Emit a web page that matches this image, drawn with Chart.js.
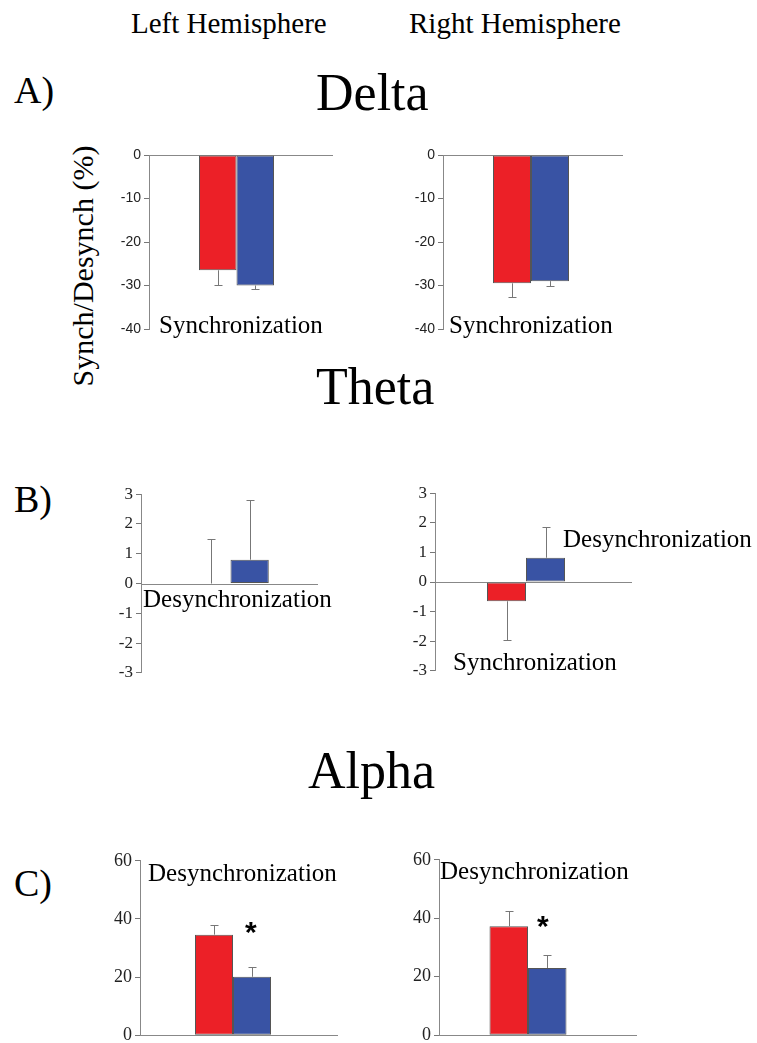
<!DOCTYPE html>
<html>
<head>
<meta charset="utf-8">
<script src="https://cdn.jsdelivr.net/npm/chart.js@4.4.1/dist/chart.umd.min.js"></script>
<style>
  html, body { margin: 0; padding: 0; background: #fff; overflow: hidden; }
  #page { position: relative; width: 757px; height: 1043px; }
  canvas { position: absolute; }
  .t { position: absolute; white-space: nowrap; line-height: 1; color: #000;
       font-family: "Liberation Serif", "Times New Roman", serif; }
</style>
</head>
<body>
<div id="page"></div>
<script>
// data (left / right hemisphere, red / blue groups)
const groups = ['Group 1', 'Group 2'];

const deltaLeft = [-26.5, -30.0];
const deltaLeftErr = [-29.9, -30.8];      // whisker ends
const deltaRight = [-29.5, -29.0];
const deltaRightErr = [-32.7, -30.1];

const thetaLeft = [0.0, 0.8];
const thetaLeftErr = [1.5, 2.8];
const thetaRight = [-0.65, 0.82];
const thetaRightErr = [-1.97, 1.87];

const alphaLeft = [34.6, 20.1];
const alphaLeftErr = [37.9, 23.4];
const alphaRight = [37.3, 23.0];
const alphaRightErr = [42.6, 27.4];

const deltaTicks = [-40, -30, -20, -10, 0];
const thetaTicks = [-3, -2, -1, 0, 1, 2, 3];
const alphaTicks = [0, 20, 40, 60];

const RED = '#ec2027';
const BLUE = '#3953a4';

const page = document.getElementById('page');

function text(str, x, baseline, size, extra) {
  const d = document.createElement('div');
  d.className = 't';
  d.textContent = str;
  d.style.fontSize = size + 'px';
  d.style.left = x + 'px';
  d.style.top = (baseline - 0.8375 * size) + 'px';
  if (extra) Object.assign(d.style, extra);
  page.appendChild(d);
  return d;
}

// zero line (runs past the chart area) + one-sided error bars
const extras = {
  id: 'extras',
  beforeDatasetsDraw(chart) {
    const o = chart.options.plugins.extras;
    const y = chart.scales.y;
    const ctx = chart.ctx;
    const y0 = Math.round(y.getPixelForValue(0)) + 0.5;
    ctx.save();
    ctx.strokeStyle = '#888';
    ctx.lineWidth = 1;
    ctx.beginPath();
    ctx.moveTo(chart.chartArea.left, y0);
    ctx.lineTo(chart.chartArea.left + o.lineLen, y0);
    ctx.stroke();
    ctx.restore();
  },
  afterDatasetsDraw(chart) {
    const ends = chart.options.plugins.extras.ends;
    const y = chart.scales.y;
    const ctx = chart.ctx;
    ctx.save();
    ctx.strokeStyle = '#777';
    ctx.lineWidth = 1;
    chart.data.datasets.forEach((ds, i) => {
      const bar = chart.getDatasetMeta(i).data[0];
      const x = Math.round(bar.x) + 0.5;
      const y0 = y.getPixelForValue(ds.data[0]);
      const y1 = Math.round(y.getPixelForValue(ends[i])) + 0.5;
      ctx.beginPath();
      ctx.moveTo(x, y0);
      ctx.lineTo(x, y1);
      ctx.moveTo(x - 4, y1);
      ctx.lineTo(x + 4, y1);
      ctx.stroke();
    });
    ctx.restore();
  }
};

const AXW = 45, PAD = 12;

function panel(values, ends, ticks, box, barPx, tickFont) {
  const cv = document.createElement('canvas');
  const lineLen = box.right - box.axis;
  const areaW = 2 * (box.mid - box.axis);
  const w = AXW + lineLen + 2;
  const h = (box.bottom - box.top) + 2 * PAD;
  cv.width = w; cv.height = h;
  cv.style.left = (box.axis - AXW) + 'px';
  cv.style.top = (box.top - PAD) + 'px';
  page.appendChild(cv);
  new Chart(cv, {
    type: 'bar',
    data: {
      labels: [''],
      datasets: [
        { label: groups[0], data: [values[0]], backgroundColor: RED },
        { label: groups[1], data: [values[1]], backgroundColor: BLUE }
      ]
    },
    options: {
      responsive: false,
      animation: false,
      devicePixelRatio: 1,
      layout: { padding: { left: 0, right: w - AXW - areaW, top: PAD, bottom: PAD } },
      datasets: {
        bar: {
          borderColor: '#555',
          borderWidth: 1,
          borderSkipped: false,
          barPercentage: 1,
          categoryPercentage: 2 * barPx / areaW
        }
      },
      plugins: {
        legend: { display: false },
        tooltip: { enabled: false },
        extras: { ends: ends, lineLen: lineLen }
      },
      scales: {
        x: { display: false },
        y: {
          min: ticks[0],
          max: ticks[ticks.length - 1],
          afterFit: s => { s.width = AXW; },
          afterBuildTicks: s => { s.ticks = ticks.map(v => ({ value: v })); },
          ticks: { padding: 3, color: '#222', font: tickFont },
          border: { display: true, color: '#888', width: 1 },
          grid: {
            drawOnChartArea: false,
            tickColor: '#777',
            tickLength: 5,
            lineWidth: 1
          }
        }
      }
    },
    plugins: [extras]
  });
}

const sansTick = { family: 'Liberation Sans', size: 14 };
const serifB = { family: 'Liberation Serif', size: 17 };
const serifC = { family: 'Liberation Serif', size: 18 };

panel(deltaLeft, deltaLeftErr, deltaTicks, { axis: 149, mid: 236.5, right: 333, top: 155, bottom: 329 }, 37.5, sansTick);
panel(deltaRight, deltaRightErr, deltaTicks, { axis: 443, mid: 531, right: 623, top: 155, bottom: 329 }, 38, sansTick);
panel(thetaLeft, thetaLeftErr, thetaTicks, { axis: 141, mid: 231, right: 318, top: 493, bottom: 674 }, 38.5, serifB);
panel(thetaRight, thetaRightErr, thetaTicks, { axis: 435, mid: 526, right: 632, top: 492, bottom: 672 }, 39, serifB);
panel(alphaLeft, alphaLeftErr, alphaTicks, { axis: 140, mid: 233, right: 338, top: 859, bottom: 1037 }, 38, serifC);
panel(alphaRight, alphaRightErr, alphaTicks, { axis: 439, mid: 528, right: 637, top: 858, bottom: 1037 }, 38.5, serifC);

// headings
text('Left Hemisphere', 131, 33, 29);
text('Right Hemisphere', 409, 33, 29);
text('A)', 14, 103, 38);
text('B)', 14, 512, 38);
text('C)', 14, 896, 38);
text('Delta', 316, 111, 52);
text('Theta', 316, 405, 52);
text('Alpha', 308, 789, 52);

const yt = text('Synch/Desynch (%)', 0, 0, 30);
yt.style.left = '83px';
yt.style.top = '266px';
yt.style.transform = 'translate(-50%, -50%) rotate(-90deg)';

// in-panel annotations
text('Synchronization', 159, 333, 25);
text('Synchronization', 449, 333, 25);
text('Desynchronization', 143, 607, 25);
text('Desynchronization', 563, 547, 25);
text('Synchronization', 453, 670, 25);
text('Desynchronization', 148, 881, 25);
text('Desynchronization', 440, 879, 25);
text('*', 245, 942, 30, { fontFamily: 'Liberation Sans', fontWeight: 'bold' });
text('*', 537, 936, 30, { fontFamily: 'Liberation Sans', fontWeight: 'bold' });
</script>
</body>
</html>
